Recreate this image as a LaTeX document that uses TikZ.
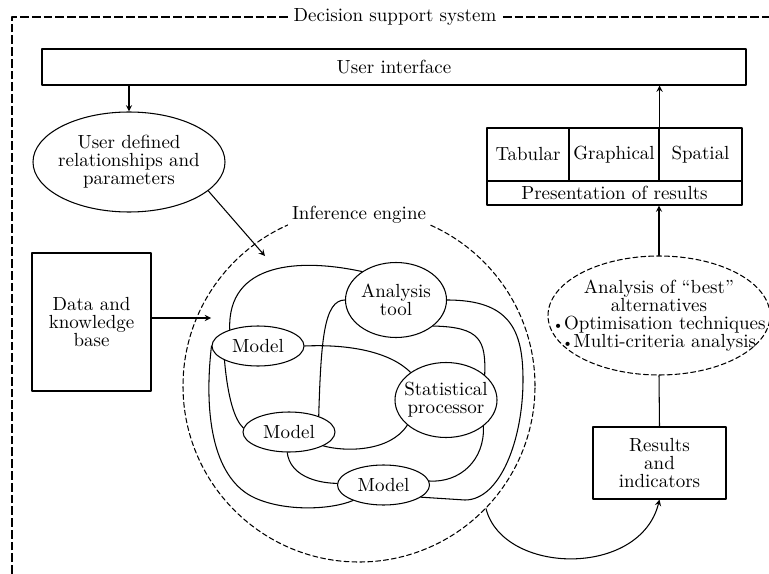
\documentclass[tikz,border=0pt]{standalone}
\usetikzlibrary{shapes.geometric}
\begin{document}
\begin{tikzpicture}[x=0.2mm, y=-0.2mm, font=\fontsize{10.8}{10.3}\selectfont, line join=round, line cap=round, >=stealth, line width=0.6pt,
	box/.style={draw, rectangle, inner sep=0pt, align=center},
	oval/.style={draw, ellipse, inner xsep=-3em, inner ysep=0pt, align=center},
	model/.style={oval, minimum width=18.4mm, minimum height=8mm},
	dsh/.style={dash pattern=on 2.8pt off 1.7pt}]
	\useasboundingbox (0,0) rectangle (769,574);
	\path
	(265,256) coordinate (ieIn1)
	(211,318) coordinate (ieIn2)
	;
	% outer frame
	\draw[line width=1.2pt, line cap=butt, dash pattern=on 5pt off 1.7pt] (12,574) -- (12,17) -- (769,17);
	\node[fill=white, inner sep=3pt] (dss) at (395,17) {Decision support system};
	\node[box, minimum width=140.8mm, minimum height=7.2mm] (ui) at (394,67) {User interface};
	\node[oval, minimum width=38.4mm, minimum height=20mm] (udr) at (129,162) {User defined\\relationships and\\parameters};
	\node[box, minimum width=23.8mm, minimum height=27.6mm] (dkb) at (91.5,322) {Data and\\knowledge\\base};
	% inference engine
	\node[draw, dsh, circle, minimum size=70.4mm, inner sep=0pt] (ie) at (359,386) {};
	\node[fill=white, inner sep=2.5pt] (iel) at (359,215) {Inference engine};
	\node[oval, minimum width=20.2mm, minimum height=15mm] (at) at (396,300) {Analysis\\tool};
	\node[oval, minimum width=20.4mm, minimum height=15mm] (sp) at (446,400) {Statistical\\processor};
	\foreach \n/\x/\y in {m1/258/346,m2/289/432,m3/383.5/485}
	\node[model] (\n) at (\x,\y) {Model};
	\draw (m1.150) .. controls (227,262) and (300,258) .. (at.140);
	\draw (at.180) .. controls (324,300) and (321,340) .. (m2.28);
	\draw (m1.0) .. controls (350,344) and (390,352) .. (sp.142);
	\draw (at.-35) .. controls (480,327) and (486,340) .. (sp.33);
	\draw (at.0) .. controls (510,300) and (523,330) .. (523,380) .. controls (523,440) and (500,500) .. (465,500) -- (m3.-18);
	\draw (m1.180) .. controls (203,420) and (215,480) .. (255,498) .. controls (285,511.5) and (330,510) .. (m3.207);
	\draw (m1.203) .. controls (228,400) and (235,420) .. (m2.175);
	\draw (m2.-22) .. controls (345,452) and (390,452) .. (sp.213);
	\draw (m2.-95) .. controls (290,475) and (315,483) .. (m3.178);
	\draw (sp.-35) .. controls (485,460) and (460,483) .. (m3.5);
	% results side
	\node[box, minimum width=26.6mm, minimum height=14.4mm] (res) at (659.5,463) {Results\\and\\indicators};
	\node[oval, dsh, minimum width=44.4mm, minimum height=23.8mm] (abest) at (659,315.5) {Analysis of ``best''\\alternatives\\{\footnotesize\textbullet}Optimisation techniques\\{\footnotesize\textbullet}Multi-criteria analysis};
	\foreach \n/\x/\w/\t in {tab/528/16.4/Tabular,gra/614/18/Graphical,spa/700.5/16.6/Spatial}
	\node[box, minimum width=\w mm, minimum height=10.6mm] (\n) at (\x,154.5) {\t};
	\node[box, minimum width=51mm, minimum height=4.8mm] (prs) at (614.5,193) {Presentation of results};
	% arrows
	\draw[->] (ui.south -| udr.north) -- (udr.north);
	\draw[->] (udr.-20) -- (ieIn1);
	\draw[->] (dkb.east |- ieIn2) -- (ieIn2);
	\draw[->] (ie.-44) .. controls (503,575) and (640,578) .. (res.south);
	\draw (res.north) -- (abest.south);
	\draw[->] (abest.north) -- (abest.north |- prs.south);
	\draw[->] (gra.north east) -- (gra.north east |- ui.south);
\end{tikzpicture}
\end{document}
